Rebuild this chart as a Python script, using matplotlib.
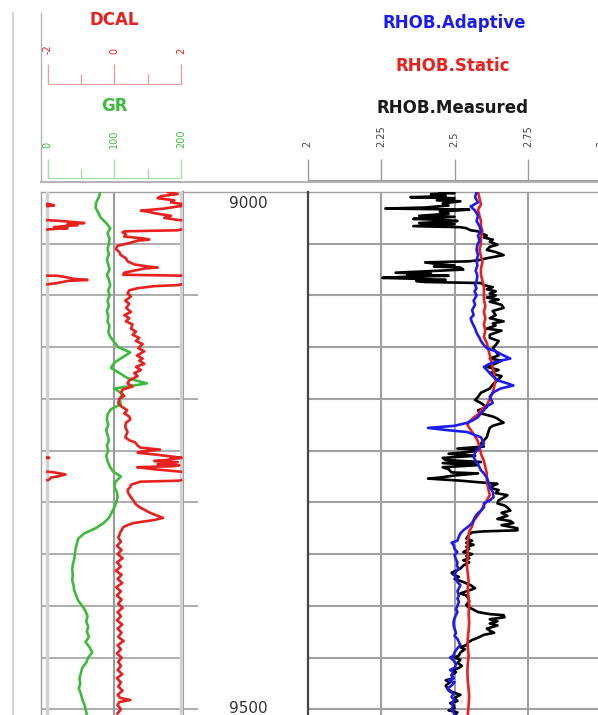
import numpy as np
import matplotlib.pyplot as plt

W, H = 598, 715
TOP_DEPTH, BOT_DEPTH = 9000, 9505.5

# ---- log values (depth in ft) ----
gr_depth = np.arange(9000, 9506, 5)
gr_api = [79, 77, 73, 72, 76, 80, 88, 94, 90, 93,
          92, 90, 92, 89, 91, 93, 89, 92, 94, 91,
          93, 90, 92, 89, 91, 90, 93, 91, 94, 100,
          106, 124, 112, 100, 95, 108, 120, 149, 100, 112,
          108, 110, 95, 90, 89, 91, 88, 90, 92, 89,
          91, 88, 90, 93, 98, 110, 102, 100, 104, 105,
          103, 100, 96, 92, 84, 72, 55, 46, 44, 42,
          41, 40, 38, 37, 38, 37, 39, 40, 43, 46,
          52, 57, 60, 58, 61, 59, 62, 57, 63, 67,
          61, 58, 52, 50, 48, 49, 47, 50, 52, 55,
          57, 59]

# DCAL, values above 2 wrap round to the left of the track
dcal_pts = [
    (9000, 1.6), (9002, 1.9), (9004, 1.4), (9006, 1.3), (9008, 1.8), (9010, 1.7),
    (9012, 2.1), (9013, 2.2), (9014, 1.9), (9016, 1.5), (9018, 0.8), (9019, 1.0),
    (9021, 1.3), (9023, 1.7), (9025, 1.5), (9027, 1.9), (9028, 2.4), (9030, 3.1),
    (9031, 2.6), (9032, 2.9), (9033, 2.5), (9034, 2.2), (9035, 2.6), (9036, 2.05),
    (9037, 1.9), (9038, 0.3), (9039, 0.25), (9041, 0.35), (9043, 0.3), (9045, 0.9),
    (9046, 1.05), (9047, 0.7), (9049, 0.5), (9052, 0.1), (9055, 0.05), (9058, 0.15),
    (9061, 0.2), (9064, 0.35), (9067, 0.4), (9070, 0.6), (9072, 1.0), (9073, 1.3),
    (9074, 0.9), (9076, 0.6), (9078, 0.3), (9080, 0.27), (9081, 2.3), (9082, 2.5),
    (9084, 2.8), (9085, 3.2), (9086, 2.6), (9088, 2.3), (9089, 2.05), (9090, 1.9),
    (9091, 1.2), (9093, 0.7), (9095, 0.45), (9098, 0.4), (9101, 0.5), (9105, 0.33),
    (9108, 0.45), (9112, 0.36), (9116, 0.5), (9119, 0.3), (9122, 0.45), (9125, 0.35),
    (9128, 0.55), (9132, 0.5), (9135, 0.65), (9138, 0.55), (9141, 0.75), (9144, 0.65),
    (9147, 0.85), (9151, 0.72), (9154, 0.9), (9158, 0.68), (9161, 0.85), (9163, 0.75),
    (9166, 0.9), (9169, 0.65), (9172, 0.8), (9175, 0.6), (9178, 0.7), (9182, 0.45),
    (9185, 0.4), (9188, 0.55), (9191, 0.25), (9194, 0.2), (9197, 0.3), (9200, 0.15),
    (9204, 0.12), (9207, 0.2), (9211, 0.39), (9214, 0.3), (9217, 0.45), (9220, 0.48),
    (9223, 0.35), (9227, 0.33), (9232, 0.4), (9237, 0.33), (9240, 0.45), (9242, 0.63),
    (9245, 0.7), (9247, 0.78), (9249, 1.37), (9251, 0.8), (9252, 0.7), (9254, 1.3),
    (9256, 1.8), (9257, 2.05), (9258, 1.7), (9259, 1.6), (9260, 1.2), (9261, 1.9),
    (9263, 1.3), (9264, 1.95), (9265, 1.8), (9266, 0.69), (9268, 1.2), (9269, 1.55),
    (9270, 1.9), (9271, 2.2), (9273, 2.54), (9275, 2.3), (9276, 2.1), (9278, 2.05),
    (9279, 1.95), (9280, 0.78), (9283, 0.5), (9285, 0.48), (9288, 0.4), (9291, 0.42),
    (9295, 0.5), (9298, 0.57), (9302, 0.65), (9305, 0.78), (9308, 0.95), (9310, 1.07),
    (9313, 1.3), (9315, 1.46), (9317, 1.2), (9320, 0.57), (9322, 0.4), (9324, 0.27),
    (9327, 0.22), (9329, 0.18), (9332, 0.15), (9334, 0.12), (9338, 0.2), (9342, 0.08),
    (9346, 0.22), (9350, 0.1), (9354, 0.25), (9358, 0.08), (9362, 0.2), (9366, 0.05),
    (9370, 0.22), (9374, 0.1), (9378, 0.24), (9382, 0.06), (9386, 0.2), (9390, 0.08),
    (9394, 0.22), (9398, 0.12), (9402, 0.25), (9406, 0.1), (9410, 0.2), (9414, 0.08),
    (9418, 0.24), (9422, 0.1), (9426, 0.22), (9430, 0.12), (9434, 0.28), (9438, 0.1),
    (9442, 0.2), (9446, 0.08), (9450, 0.22), (9454, 0.12), (9458, 0.2), (9462, 0.1),
    (9466, 0.24), (9470, 0.08), (9474, 0.2), (9478, 0.12), (9482, 0.25), (9486, 0.1),
    (9489, 0.18), (9491, 0.48), (9493, 0.15), (9496, 0.1), (9500, 0.2), (9504, 0.1),
]

rhob_measured_pts = [
    (9000, 2.45), (9001, 2.50), (9002, 2.42), (9004, 2.47), (9005, 2.35), (9006, 2.50),
    (9008, 2.44), (9009, 2.52), (9011, 2.46), (9013, 2.48), (9015, 2.40), (9016, 2.265),
    (9017, 2.55), (9019, 2.45), (9021, 2.48), (9023, 2.38), (9024, 2.50), (9026, 2.36),
    (9027, 2.46), (9028, 2.51), (9030, 2.38), (9031, 2.50), (9033, 2.36), (9034, 2.52),
    (9035, 2.54), (9037, 2.555), (9038, 2.58), (9040, 2.59), (9042, 2.61), (9044, 2.60),
    (9046, 2.63), (9048, 2.62), (9051, 2.646), (9053, 2.62), (9056, 2.61), (9058, 2.64),
    (9061, 2.667), (9064, 2.61), (9066, 2.58), (9067, 2.55), (9068, 2.40), (9070, 2.45),
    (9071, 2.50), (9072, 2.43), (9073, 2.52), (9075, 2.53), (9077, 2.38), (9078, 2.30),
    (9079, 2.42), (9080, 2.34), (9081, 2.48), (9082, 2.33), (9083, 2.255), (9084, 2.38),
    (9085, 2.47), (9086, 2.37), (9087, 2.40), (9088, 2.59), (9090, 2.60), (9092, 2.63),
    (9094, 2.61), (9096, 2.64), (9098, 2.62), (9100, 2.64), (9102, 2.61), (9104, 2.65),
    (9106, 2.62), (9109, 2.66), (9112, 2.667), (9115, 2.63), (9119, 2.64), (9122, 2.62),
    (9125, 2.667), (9127, 2.63), (9129, 2.64), (9132, 2.61), (9134, 2.66), (9138, 2.62),
    (9141, 2.62), (9144, 2.65), (9148, 2.64), (9151, 2.63), (9154, 2.64), (9158, 2.65),
    (9161, 2.62), (9163, 2.66), (9167, 2.63), (9169, 2.61), (9172, 2.65), (9175, 2.62),
    (9178, 2.66), (9182, 2.646), (9186, 2.63), (9190, 2.62), (9194, 2.59), (9198, 2.58),
    (9201, 2.57), (9204, 2.59), (9208, 2.61), (9211, 2.58), (9214, 2.59), (9217, 2.63),
    (9219, 2.646), (9223, 2.667), (9226, 2.63), (9228, 2.62), (9232, 2.615), (9237, 2.61),
    (9240, 2.60), (9243, 2.59), (9246, 2.60), (9248, 2.51), (9249, 2.58), (9251, 2.56),
    (9253, 2.48), (9255, 2.57), (9257, 2.46), (9259, 2.47), (9261, 2.59), (9262, 2.46),
    (9264, 2.58), (9266, 2.46), (9268, 2.48), (9271, 2.49), (9272, 2.58), (9274, 2.50),
    (9276, 2.45), (9277, 2.41), (9279, 2.52), (9280, 2.56), (9282, 2.646), (9284, 2.63),
    (9286, 2.62), (9288, 2.65), (9291, 2.64), (9293, 2.68), (9295, 2.67), (9298, 2.65),
    (9301, 2.646), (9303, 2.67), (9305, 2.68), (9308, 2.69), (9310, 2.66), (9313, 2.68),
    (9316, 2.646), (9318, 2.69), (9320, 2.70), (9322, 2.66), (9325, 2.714), (9327, 2.714),
    (9328, 2.60), (9329, 2.56), (9331, 2.55), (9333, 2.545), (9335, 2.54), (9337, 2.56),
    (9339, 2.54), (9341, 2.565), (9343, 2.54), (9345, 2.55), (9348, 2.53), (9350, 2.56),
    (9352, 2.54), (9354, 2.55), (9356, 2.53), (9358, 2.55), (9361, 2.53), (9364, 2.52),
    (9366, 2.505), (9368, 2.49), (9370, 2.497), (9372, 2.515), (9374, 2.50), (9377, 2.53),
    (9380, 2.555), (9383, 2.57), (9386, 2.54), (9388, 2.52), (9390, 2.54), (9393, 2.548),
    (9396, 2.55), (9399, 2.54), (9401, 2.545), (9403, 2.56), (9406, 2.58), (9408, 2.62),
    (9409, 2.667), (9411, 2.67), (9413, 2.62), (9415, 2.646), (9417, 2.62), (9419, 2.646),
    (9422, 2.61), (9424, 2.62), (9426, 2.635), (9428, 2.60), (9431, 2.578), (9433, 2.56),
    (9435, 2.548), (9438, 2.54), (9440, 2.52), (9442, 2.535), (9445, 2.52), (9448, 2.515),
    (9450, 2.50), (9452, 2.52), (9455, 2.51), (9458, 2.525), (9460, 2.515), (9462, 2.495),
    (9464, 2.505), (9467, 2.49), (9470, 2.495), (9472, 2.47), (9474, 2.485), (9477, 2.47),
    (9480, 2.476), (9483, 2.49), (9486, 2.52), (9489, 2.50), (9492, 2.51), (9494, 2.485),
    (9496, 2.497), (9499, 2.50), (9501, 2.48), (9503, 2.51), (9506, 2.50),
]

rhob_static_pts = [
    (9000, 2.58), (9006, 2.585), (9012, 2.59), (9017, 2.58), (9023, 2.585), (9028, 2.59),
    (9033, 2.59), (9038, 2.595), (9044, 2.59), (9050, 2.59), (9056, 2.585), (9062, 2.59),
    (9068, 2.595), (9074, 2.59), (9080, 2.59), (9086, 2.595), (9092, 2.60), (9098, 2.60),
    (9104, 2.60), (9110, 2.605), (9116, 2.60), (9122, 2.605), (9128, 2.60), (9134, 2.605),
    (9140, 2.60), (9146, 2.61), (9152, 2.615), (9158, 2.62), (9164, 2.625), (9170, 2.63),
    (9176, 2.635), (9182, 2.64), (9188, 2.635), (9194, 2.63), (9200, 2.62), (9206, 2.61),
    (9211, 2.59), (9215, 2.58), (9218, 2.565), (9222, 2.55), (9225, 2.544), (9228, 2.55),
    (9230, 2.555), (9234, 2.565), (9240, 2.578), (9246, 2.585), (9253, 2.59), (9260, 2.60),
    (9266, 2.605), (9272, 2.61), (9280, 2.61), (9287, 2.615), (9293, 2.62), (9298, 2.61),
    (9303, 2.60), (9308, 2.59), (9313, 2.578), (9318, 2.565), (9323, 2.56), (9328, 2.55),
    (9333, 2.548), (9338, 2.545), (9345, 2.544), (9352, 2.545), (9360, 2.542), (9368, 2.545),
    (9376, 2.548), (9384, 2.545), (9392, 2.548), (9400, 2.55), (9408, 2.548), (9416, 2.55),
    (9424, 2.548), (9432, 2.545), (9440, 2.545), (9448, 2.548), (9456, 2.545), (9464, 2.544),
    (9472, 2.545), (9480, 2.548), (9488, 2.55), (9496, 2.548), (9506, 2.545),
]

rhob_adaptive_pts = [
    (9000, 2.575), (9005, 2.57), (9010, 2.58), (9014, 2.555), (9018, 2.57), (9023, 2.58),
    (9028, 2.575), (9033, 2.585), (9038, 2.59), (9042, 2.58), (9047, 2.585), (9051, 2.578),
    (9056, 2.575), (9061, 2.58), (9066, 2.575), (9071, 2.578), (9076, 2.572), (9081, 2.578),
    (9086, 2.575), (9090, 2.57), (9093, 2.575), (9096, 2.568), (9100, 2.575), (9105, 2.565),
    (9109, 2.57), (9114, 2.56), (9119, 2.565), (9122, 2.555), (9125, 2.558), (9129, 2.565),
    (9132, 2.57), (9136, 2.575), (9141, 2.585), (9144, 2.59), (9148, 2.60), (9151, 2.61),
    (9154, 2.64), (9158, 2.667), (9161, 2.69), (9163, 2.656), (9166, 2.62), (9169, 2.60),
    (9172, 2.61), (9175, 2.62), (9178, 2.63), (9182, 2.646), (9185, 2.68), (9187, 2.70),
    (9190, 2.656), (9194, 2.63), (9198, 2.62), (9201, 2.625), (9204, 2.63), (9207, 2.61),
    (9211, 2.60), (9214, 2.59), (9218, 2.578), (9221, 2.56), (9223, 2.544), (9226, 2.50),
    (9228, 2.41), (9230, 2.47), (9232, 2.544), (9235, 2.57), (9237, 2.59), (9240, 2.595),
    (9243, 2.60), (9246, 2.59), (9249, 2.578), (9252, 2.57), (9256, 2.565), (9259, 2.57),
    (9262, 2.578), (9266, 2.585), (9269, 2.59), (9272, 2.60), (9276, 2.61), (9280, 2.615),
    (9285, 2.62), (9290, 2.63), (9295, 2.633), (9298, 2.62), (9301, 2.60), (9305, 2.60),
    (9308, 2.59), (9311, 2.578), (9314, 2.57), (9317, 2.565), (9320, 2.56), (9324, 2.544),
    (9327, 2.53), (9330, 2.52), (9333, 2.515), (9337, 2.51), (9339, 2.49), (9341, 2.497),
    (9345, 2.50), (9348, 2.51), (9351, 2.50), (9355, 2.505), (9358, 2.51), (9361, 2.508),
    (9364, 2.514), (9367, 2.505), (9370, 2.50), (9373, 2.505), (9377, 2.51), (9380, 2.52),
    (9383, 2.515), (9386, 2.51), (9390, 2.515), (9393, 2.51), (9396, 2.515), (9400, 2.51),
    (9403, 2.505), (9406, 2.51), (9409, 2.505), (9412, 2.50), (9415, 2.497), (9419, 2.497),
    (9422, 2.50), (9426, 2.505), (9429, 2.50), (9432, 2.51), (9435, 2.515), (9438, 2.52),
    (9441, 2.51), (9445, 2.50), (9448, 2.497), (9450, 2.485), (9451, 2.49), (9454, 2.50),
    (9457, 2.505), (9460, 2.50), (9462, 2.485), (9464, 2.495), (9467, 2.49), (9470, 2.497),
    (9472, 2.48), (9474, 2.50), (9477, 2.49), (9480, 2.476), (9482, 2.48), (9485, 2.497),
    (9488, 2.49), (9491, 2.50), (9494, 2.49), (9497, 2.495), (9500, 2.49), (9503, 2.497),
    (9506, 2.50),
]

dcal_ticks = [-2, 0, 2]
dcal_labels = ['-2', '0', '2']
gr_ticks = [0, 100, 200]
gr_labels = ['0', '100', '200']
rhob_ticks = [2, 2.25, 2.5, 2.75, 3]
rhob_labels = ['2', '2.25', '2.5', '2.75', '3']
depth_marks = [9000, 9500]

RED = '#e8201e'
GREEN = '#3dbb3d'
BLUE = '#1c1cf0'
GRID = '#a0a0a0'
LW = 1.9


def unzip(pts):
    d, v = zip(*pts)
    return np.array(d, float), np.array(v, float)


def wrap(depth, vals, lo=-2.0, hi=2.0):
    # backup scale: past the right edge the curve comes back in from the left
    span = hi - lo
    xs, ys = [], []
    for i in range(len(vals)):
        v, d = vals[i], depth[i]
        if i > 0:
            pv, pd = vals[i - 1], depth[i - 1]
            if (pv <= hi) != (v <= hi):
                dc = pd + (hi - pv) / (v - pv) * (d - pd)
                xs += [hi, np.nan, lo] if pv <= hi else [lo, np.nan, hi]
                ys += [dc, np.nan, dc]
        xs.append(v - span if v > hi else v)
        ys.append(d)
    return xs, ys


fig = plt.figure(figsize=(W / 100, H / 100), dpi=100)


def px_axes(x0, y0, x1, y1):
    ax = fig.add_axes([x0 / W, 1 - y1 / H, (x1 - x0) / W, (y1 - y0) / H])
    ax.set_facecolor('none')
    return ax


# frame lines and titles, in pixel units
bg = px_axes(0, 0, W, H)
bg.set_xlim(0, W)
bg.set_ylim(H, 0)
bg.axis('off')
bg.plot([13, 13], [13, H], color='#d4d4d4', lw=1.5)
bg.plot([41, 41], [13, 182], color='#b4b4b4', lw=1)
bg.plot([41, W], [182, 182], color='#b4b4b4', lw=1.5)
bg.plot([41, W], [192, 192], color=GRID, lw=1)
bg.plot([41, 41], [192, H], color=GRID, lw=1)
bg.plot([183, 183], [192, H], color=GRID, lw=1.5)

title_kw = dict(fontsize=12, fontweight='bold', ha='center', va='center')
bg.text(114, 20, 'DCAL', color=RED, **title_kw)
bg.text(114, 106, 'GR', color=GREEN, **title_kw)
bg.text(454, 23, 'RHOB.Adaptive', color=BLUE, **title_kw)
bg.text(453, 66, 'RHOB.Static', color=RED, **title_kw)
bg.text(453, 108, 'RHOB.Measured', color='#1a1a1a', **title_kw)


def scale_axes(x0, x1, y_line, y_top, lim, ticks, labels, color, label_color,
               major_len, minor=None, minor_len=0):
    ax = px_axes(x0, y_top, x1, y_line)
    ax.set_xlim(*lim)
    for k, s in ax.spines.items():
        s.set_visible(k == 'bottom')
    ax.spines['bottom'].set_color(color)
    ax.set_yticks([])
    ax.set_xticks(ticks, labels)
    if minor:
        ax.set_xticks(minor, minor=True)
    ax.tick_params(axis='x', which='major', direction='in', length=major_len * 0.72,
                   color=color, width=1, top=False, bottom=True, labelbottom=False,
                   labeltop=True, labelrotation=90, labelcolor=label_color,
                   labelsize=7, pad=2)
    ax.tick_params(axis='x', which='minor', direction='in', length=minor_len * 0.72,
                   color=color, width=1, top=False, bottom=True)
    return ax


scale_axes(47.5, 181, 84, 57, (-2, 2), dcal_ticks, dcal_labels, '#e4a0a0', RED, 20, [-1, 1], 10)
scale_axes(47.5, 181, 178, 151, (0, 200), gr_ticks, gr_labels, '#a8dca8', GREEN, 19, [50, 150], 9)
scale_axes(307.5, 601.5, 180, 150, (2, 3), rhob_ticks, rhob_labels, '#9a9a9a', '#444444', 21)

# left track: GR + DCAL
ax_l = px_axes(41, 192, 183, H)
ax_l.set_xlim(-9.7, 203)
ax_l.set_ylim(BOT_DEPTH, TOP_DEPTH)
for s in ax_l.spines.values():
    s.set_visible(False)
ax_l.set_xticks([])
ax_l.set_yticks(np.arange(9050, 9501, 50))
ax_l.tick_params(left=False, labelleft=False)
ax_l.grid(axis='y', color=GRID, lw=1.2)
for gx, col, lw in [(0, '#d2d2d2', 2.5), (200, '#d2d2d2', 2.5), (100, '#9a9a9a', 1.5)]:
    ax_l.axvline(gx, color=col, lw=lw)
ax_l.plot(gr_api, gr_depth, color=GREEN, lw=LW)

ax_c = ax_l.twiny()
ax_c.set_xlim(-2.194, 2.06)
ax_c.axis('off')
dd, dv = unzip(dcal_pts)
wx, wy = wrap(dd, dv)
ax_c.plot(wx, wy, color=RED, lw=LW)

# depth track
ax_d = px_axes(183, 192, 306, H)
ax_d.set_xlim(0, 1)
ax_d.set_ylim(BOT_DEPTH, TOP_DEPTH)
ax_d.axis('off')
ax_d.hlines(np.arange(9100, 9501, 100), 0, 0.125, color=GRID, lw=1.2)
ax_d.text(0.534, depth_marks[0] + 4, str(depth_marks[0]), ha='center', va='top',
          fontsize=11, color='#333333')
ax_d.text(0.534, depth_marks[1] - 1, str(depth_marks[1]), ha='center', va='center',
          fontsize=11, color='#333333')

# right track: RHOB
ax_r = px_axes(307.5, 192, 601.5, H)
ax_r.set_xlim(2, 3)
ax_r.set_ylim(BOT_DEPTH, TOP_DEPTH)
ax_r.set_xticks([2.25, 2.5, 2.75, 3])
ax_r.set_yticks(np.arange(9050, 9501, 50))
ax_r.tick_params(length=0, labelbottom=False, labelleft=False)
ax_r.grid(color=GRID, lw=1.5)
for k, s in ax_r.spines.items():
    s.set_visible(k == 'left')
ax_r.spines['left'].set_color('#444444')
ax_r.spines['left'].set_linewidth(1.6)

md, mv = unzip(rhob_measured_pts)
sd, sv = unzip(rhob_static_pts)
ad, av = unzip(rhob_adaptive_pts)
ax_r.plot(mv, md, color='black', lw=LW)
ax_r.plot(sv, sd, color=RED, lw=LW)
ax_r.plot(av, ad, color=BLUE, lw=LW)

fig.savefig('out.png', dpi=100)
